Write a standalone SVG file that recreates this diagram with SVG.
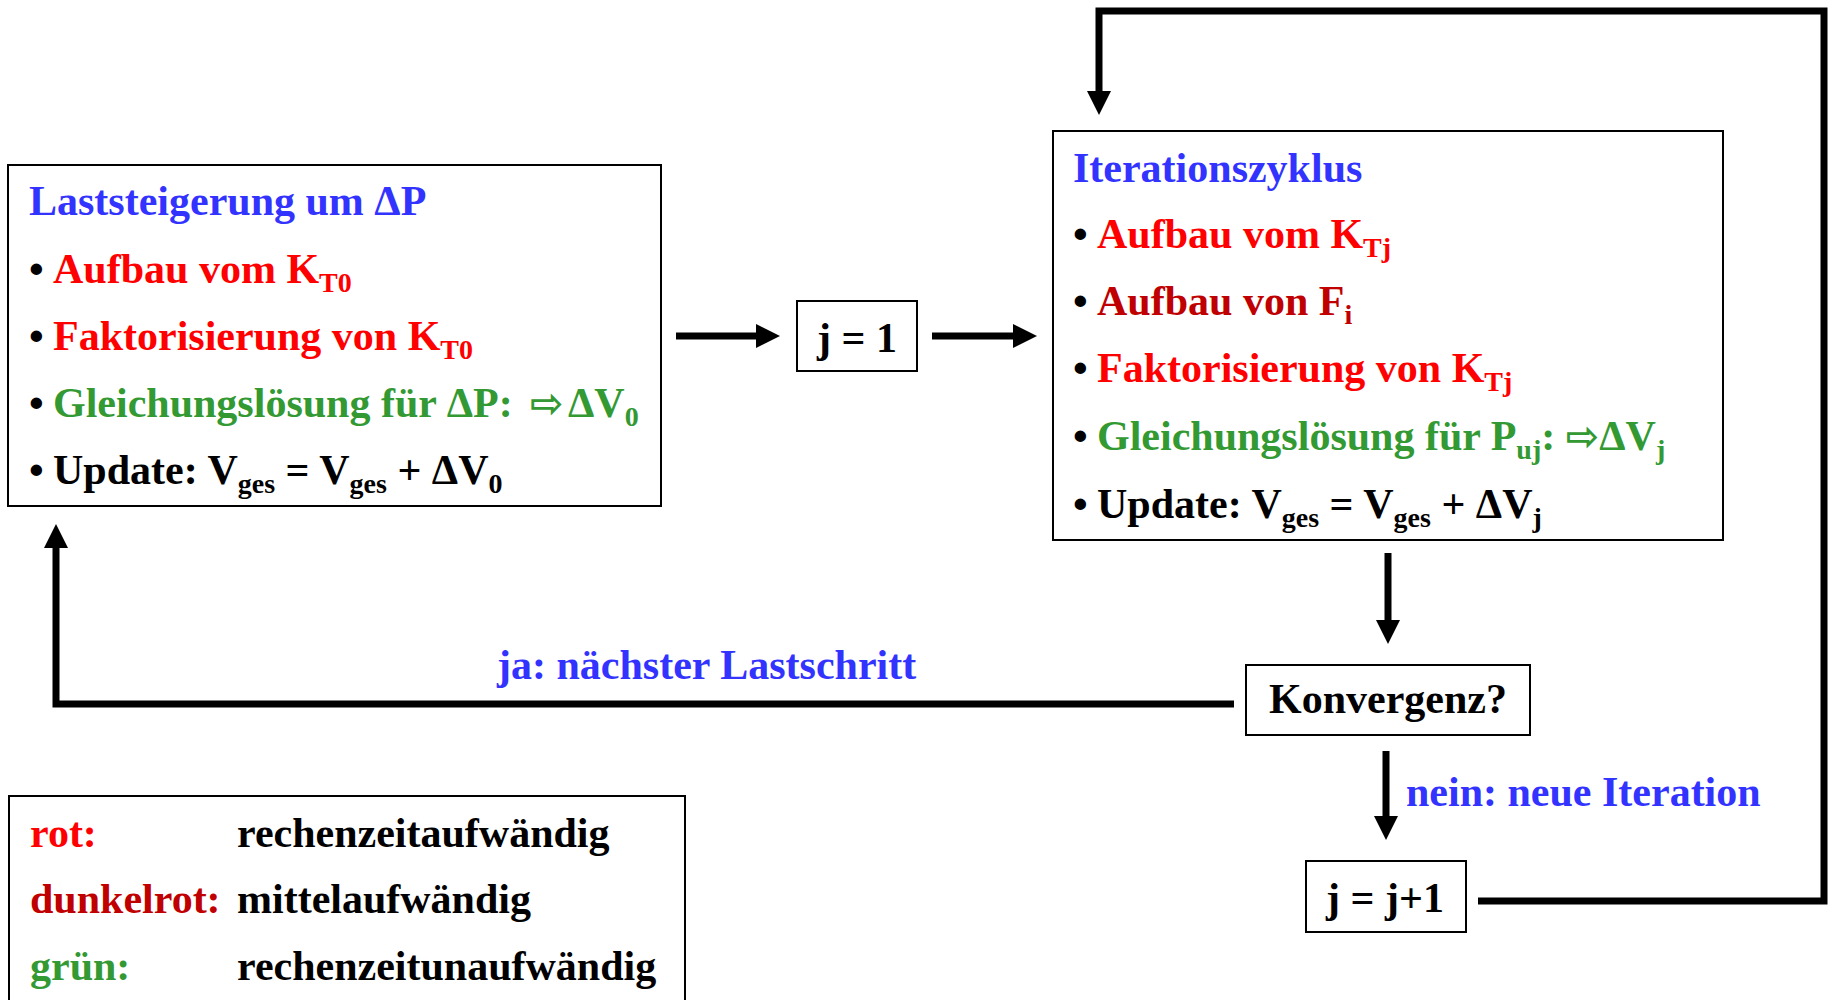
<svg xmlns="http://www.w3.org/2000/svg" width="1833" height="1000" viewBox="0 0 1833 1000">
<style>
.t{font-family:"Liberation Serif","Times New Roman",serif;font-weight:bold;font-size:42px}
.sub{font-size:28px}
.sym{font-family:"DejaVu Sans",sans-serif;font-weight:bold;font-size:40px}
.blue{fill:#3333ff}.red{fill:#ff0000}.dred{fill:#c00000}.green{fill:#339933}.blk{fill:#000000}
.box{fill:#ffffff;stroke:#000000;stroke-width:2}
.conn{fill:none;stroke:#000000;stroke-width:7;stroke-linejoin:miter}
</style>
<defs>
<marker id="ah" markerUnits="userSpaceOnUse" markerWidth="24" markerHeight="24" refX="0" refY="12" orient="auto" overflow="visible">
<path d="M0,0 L24,12 L0,24 z" fill="#000000"/>
</marker>
</defs>
<rect width="1833" height="1000" fill="#ffffff"/>

<g id="connectors">
<path class="conn" d="M676,336 H756" marker-end="url(#ah)"/>
<path class="conn" d="M932,336 H1013" marker-end="url(#ah)"/>
<path class="conn" d="M1388,553 V620" marker-end="url(#ah)"/>
<path class="conn" d="M1386,751 V816" marker-end="url(#ah)"/>
<path class="conn" d="M1478,901 H1824 V11 H1099 V91" marker-end="url(#ah)"/>
<path class="conn" d="M1234,704 H56 V548" marker-end="url(#ah)"/>
<text class="t blue" x="497" y="679">ja: nächster Lastschritt</text>
<text class="t blue" x="1406" y="806">nein: neue Iteration</text>
</g>

<g id="laststeigerung">
<rect class="box" x="8" y="165" width="653" height="341"/>
<text class="t blue" x="29" y="215">Laststeigerung um ΔP</text>
<text class="t blk" x="29" y="283">•</text>
<text class="t red" x="53" y="283">Aufbau vom K<tspan class="sub" dy="9">T0</tspan></text>
<text class="t blk" x="29" y="350">•</text>
<text class="t red" x="53" y="350">Faktorisierung von K<tspan class="sub" dy="9">T0</tspan></text>
<text class="t blk" x="29" y="417">•</text>
<text class="t green" x="53" y="417">Gleichungslösung für ΔP: <tspan class="sym" x="530">⇨</tspan><tspan x="568">ΔV</tspan><tspan class="sub" dy="9">0</tspan></text>
<text class="t blk" x="29" y="484">•</text>
<text class="t blk" x="53" y="484">Update: V<tspan class="sub" dy="9">ges</tspan><tspan dy="-9"> = V</tspan><tspan class="sub" dy="9">ges</tspan><tspan dy="-9"> + ΔV</tspan><tspan class="sub" dy="9">0</tspan></text>
</g>

<g id="j1">
<rect class="box" x="797" y="301" width="120" height="70"/>
<text class="t blk" x="857" y="352" text-anchor="middle">j = 1</text>
</g>

<g id="iterationszyklus">
<rect class="box" x="1053" y="131" width="670" height="409"/>
<text class="t blue" x="1073" y="182">Iterationszyklus</text>
<text class="t blk" x="1073" y="248">•</text>
<text class="t red" x="1097" y="248">Aufbau vom K<tspan class="sub" dy="9">Tj</tspan></text>
<text class="t blk" x="1073" y="315">•</text>
<text class="t dred" x="1097" y="315">Aufbau von F<tspan class="sub" dy="9">i</tspan></text>
<text class="t blk" x="1073" y="382">•</text>
<text class="t red" x="1097" y="382">Faktorisierung von K<tspan class="sub" dy="9">Tj</tspan></text>
<text class="t blk" x="1073" y="450">•</text>
<text class="t green" x="1097" y="450">Gleichungslösung für P<tspan class="sub" dy="9">uj</tspan><tspan dy="-9">: </tspan><tspan class="sym">⇨</tspan><tspan>ΔV</tspan><tspan class="sub" dy="9">j</tspan></text>
<text class="t blk" x="1073" y="518">•</text>
<text class="t blk" x="1097" y="518">Update: V<tspan class="sub" dy="9">ges</tspan><tspan dy="-9"> = V</tspan><tspan class="sub" dy="9">ges</tspan><tspan dy="-9"> + ΔV</tspan><tspan class="sub" dy="9">j</tspan></text>
</g>

<g id="konvergenz">
<rect class="box" x="1246" y="665" width="284" height="70"/>
<text class="t blk" x="1388" y="713" text-anchor="middle">Konvergenz?</text>
</g>

<g id="jplus1">
<rect class="box" x="1306" y="861" width="160" height="71"/>
<text class="t blk" x="1385" y="912" text-anchor="middle">j = j+1</text>
</g>

<g id="legende">
<rect class="box" x="9" y="796" width="676" height="220"/>
<text class="t red" x="30" y="847">rot:</text>
<text class="t blk" x="237" y="847">rechenzeitaufwändig</text>
<text class="t dred" x="30" y="913">dunkelrot:</text>
<text class="t blk" x="237" y="913">mittelaufwändig</text>
<text class="t green" x="30" y="980">grün:</text>
<text class="t blk" x="237" y="980">rechenzeitunaufwändig</text>
</g>
</svg>
